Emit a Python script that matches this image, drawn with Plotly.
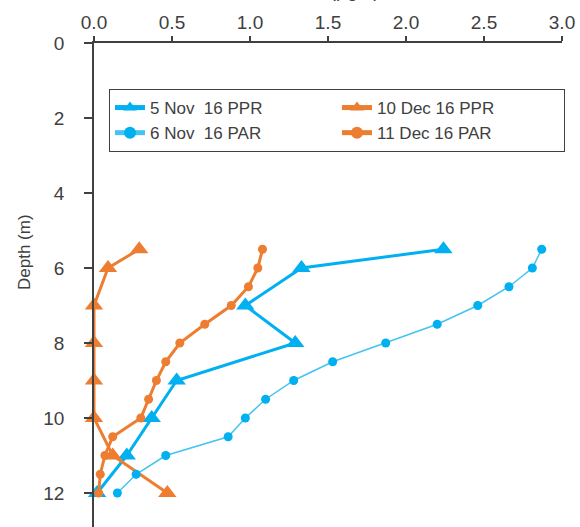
import plotly.graph_objects as go

# Data
ppr_nov_depth = [5.5, 6, 7, 8, 9, 10, 11, 12]
ppr_nov_val = [2.24, 1.33, 0.97, 1.29, 0.53, 0.37, 0.21, 0.02]

par_nov_depth = [5.5, 6.0, 6.5, 7.0, 7.5, 8.0, 8.5, 9.0, 9.5, 10.0, 10.5, 11.0, 11.5, 12.0]
par_nov_val = [2.87, 2.81, 2.66, 2.46, 2.20, 1.87, 1.53, 1.28, 1.10, 0.97, 0.86, 0.46, 0.27, 0.15]

ppr_dec_depth = [5.5, 6, 7, 8, 9, 10, 11, 12]
ppr_dec_val = [0.29, 0.09, 0.0, 0.0, 0.0, 0.0, 0.12, 0.47]

par_dec_depth = [5.5, 6.0, 6.5, 7.0, 7.5, 8.0, 8.5, 9.0, 9.5, 10.0, 10.5, 11.0, 11.5, 12.0]
par_dec_val = [1.08, 1.05, 0.99, 0.88, 0.71, 0.55, 0.46, 0.40, 0.35, 0.30, 0.12, 0.07, 0.04, 0.03]

x_ticks = [0.0, 0.5, 1.0, 1.5, 2.0, 2.5, 3.0]
y_ticks = [0, 2, 4, 6, 8, 10, 12]

BLUE = "#00B0F0"
BLUE_LIGHT = "#45C3F2"
ORANGE = "#ED7D31"
TXT = "#404040"
FONT = "Liberation Sans, Arial, sans-serif"

fig = go.Figure()
fig.add_trace(go.Scatter(x=ppr_nov_val, y=ppr_nov_depth, name="5 Nov  16 PPR", mode="lines+markers",
                         line=dict(color=BLUE, width=3),
                         marker=dict(symbol="triangle-up", size=16, color=BLUE), cliponaxis=False))
fig.add_trace(go.Scatter(x=ppr_dec_val, y=ppr_dec_depth, name="10 Dec 16 PPR", mode="lines+markers",
                         line=dict(color=ORANGE, width=3),
                         marker=dict(symbol="triangle-up", size=16, color=ORANGE), cliponaxis=False))
fig.add_trace(go.Scatter(x=par_nov_val, y=par_nov_depth, name="6 Nov  16 PAR", mode="lines+markers",
                         line=dict(color=BLUE_LIGHT, width=1.5),
                         marker=dict(symbol="circle", size=9, color=BLUE), cliponaxis=False))
fig.add_trace(go.Scatter(x=par_dec_val, y=par_dec_depth, name="11 Dec 16 PAR", mode="lines+markers",
                         line=dict(color=ORANGE, width=3),
                         marker=dict(symbol="circle", size=9, color=ORANGE), cliponaxis=False))

plot_top = 43
plot_h = 527 - plot_top
plot_w = 562 - 94

fig.update_layout(
    width=580, height=527,
    margin=dict(l=94, r=18, t=plot_top, b=0, autoexpand=False),
    paper_bgcolor="white", plot_bgcolor="white",
    font=dict(family=FONT, color=TXT, size=18),
    showlegend=True,
    legend=dict(
        orientation="h", x=(109 - 94) / plot_w, y=1 - (89 - plot_top) / plot_h,
        xanchor="left", yanchor="top",
        bgcolor="white", bordercolor=TXT, borderwidth=1,
        font=dict(family=FONT, size=17, color=TXT),
        entrywidth=182, itemsizing="constant", traceorder="normal",
    ),
    xaxis=dict(
        side="top", range=[0, 3], tickvals=x_ticks, ticktext=[f"{v:.1f}" for v in x_ticks],
        showline=True, linecolor=TXT, linewidth=1.5, ticks="outside", ticklen=5,
        tickcolor=TXT, tickwidth=1.5, showgrid=False, zeroline=False, automargin=False,
        tickfont=dict(size=19, color=TXT),
    ),
    yaxis=dict(
        range=[(527 - plot_top) / 37.5, 0], tickvals=y_ticks,
        showline=True, linecolor=TXT, linewidth=1.5, ticks="outside", ticklen=8,
        tickcolor=TXT, tickwidth=1.5, showgrid=False, zeroline=False, automargin=False,
        tickfont=dict(size=19, color=TXT), ticklabelstandoff=16,
    ),
    annotations=[
        dict(text="Depth (m)", xref="paper", yref="paper", x=(24 - 94) / plot_w,
             y=1 - (252 - plot_top) / plot_h, textangle=-90, showarrow=False,
             xanchor="center", yanchor="middle", font=dict(size=17, color=TXT)),
        dict(text="Chl a (µg/L)", xref="paper", yref="paper", x=(330 - 94) / plot_w,
             y=1 + (plot_top - 3) / plot_h, showarrow=False,
             xanchor="center", yanchor="bottom", font=dict(size=19, color=TXT)),
    ],
)

fig.write_html("out.html", config={"displayModeBar": False},
               post_script="document.body.style.margin='0';document.body.style.overflow='hidden';")
